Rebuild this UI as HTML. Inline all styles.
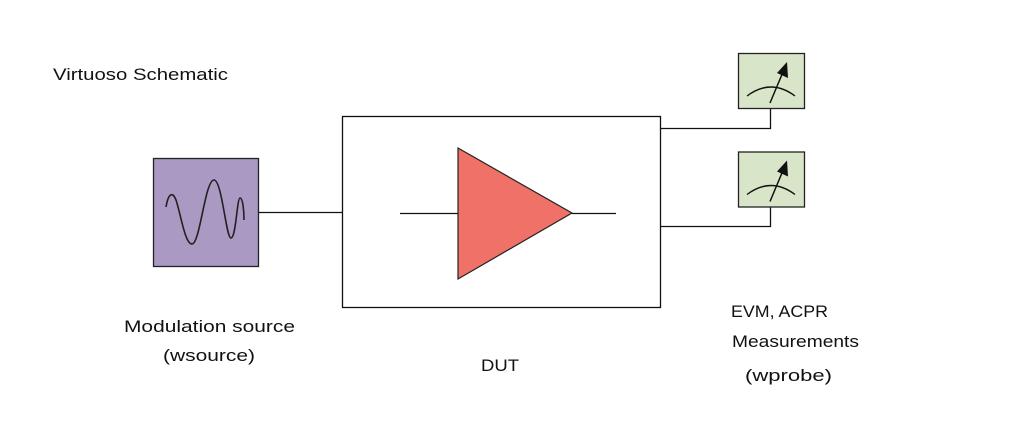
<!DOCTYPE html>
<html><head><style>
body{margin:0;background:#fff;}
svg{display:block;}
text{font-family:"Liberation Sans",Arial,sans-serif;font-size:17px;fill:#111;}
</style></head><body>
<svg width="1013" height="421" viewBox="0 0 1013 421" xmlns="http://www.w3.org/2000/svg">
<rect width="1013" height="421" fill="#fff"/>
<text x="53" y="80" textLength="175" lengthAdjust="spacingAndGlyphs">Virtuoso Schematic</text>
<rect x="153.5" y="158.5" width="105" height="108" fill="#a999c3" stroke="#222" stroke-width="1.3"/>
<path d="M166,207 C168,195 172,190 176,200 C181,215 185,244 192,244 C200,244 205,180 214,180 C222,180 226,238 231,238 C236,238 237,198 240,198 C243,198 244,212 244,220" fill="none" stroke="#222" stroke-width="1.6"/>
<line x1="259" y1="212.5" x2="342" y2="212.5" stroke="#111" stroke-width="1.3"/>
<rect x="342.5" y="116.5" width="318" height="191" fill="#fff" stroke="#111" stroke-width="1.3"/>
<line x1="400" y1="213.5" x2="458" y2="213.5" stroke="#111" stroke-width="1.3"/>
<line x1="572" y1="213.5" x2="616" y2="213.5" stroke="#111" stroke-width="1.3"/>
<polygon points="458,148 572,213 458,279" fill="#f07168" stroke="#222" stroke-width="1.2"/>
<polyline points="660,128.5 770.5,128.5 770.5,108" fill="none" stroke="#111" stroke-width="1.3"/>
<polyline points="660,226.5 770.5,226.5 770.5,206" fill="none" stroke="#111" stroke-width="1.3"/>
<g id="m1">
<rect x="738.5" y="53.5" width="66" height="55" fill="#d9e5c8" stroke="#222" stroke-width="1.3"/>
<path d="M747,96 Q771,78 795,96" fill="none" stroke="#111" stroke-width="1.4"/>
<line x1="770" y1="103" x2="783" y2="72" stroke="#111" stroke-width="1.5"/>
<polygon points="787,62 788,78 777,73" fill="#111"/>
</g>
<use href="#m1" y="98.5"/>
<text x="124" y="332" textLength="171" lengthAdjust="spacingAndGlyphs">Modulation source</text>
<text x="163" y="361" textLength="92" lengthAdjust="spacingAndGlyphs">(wsource)</text>
<text x="481" y="371" textLength="38" lengthAdjust="spacingAndGlyphs">DUT</text>
<text x="731" y="317" textLength="97" lengthAdjust="spacingAndGlyphs">EVM, ACPR</text>
<text x="732" y="347" textLength="127" lengthAdjust="spacingAndGlyphs">Measurements</text>
<text x="745" y="381" textLength="87" lengthAdjust="spacingAndGlyphs">(wprobe)</text>
</svg>
</body></html>
